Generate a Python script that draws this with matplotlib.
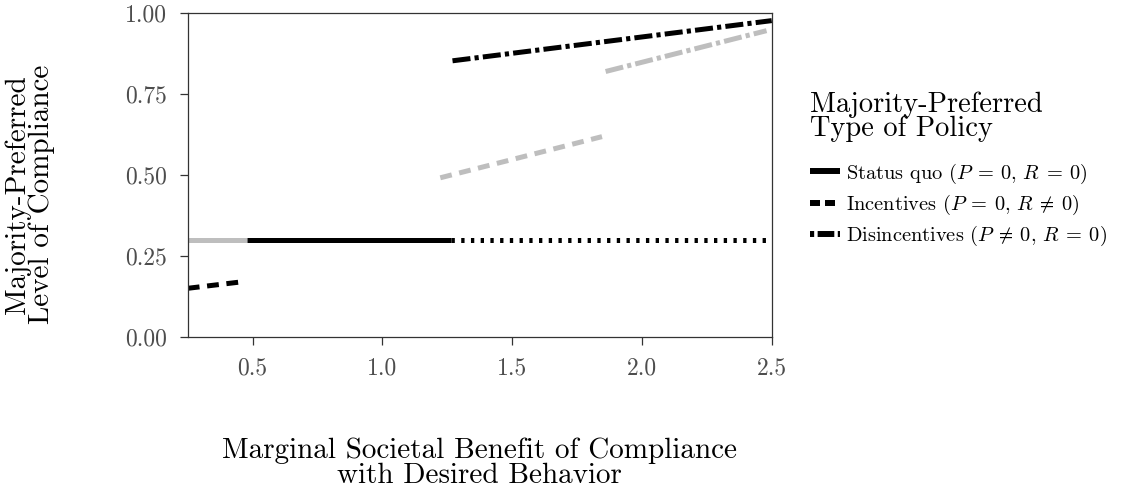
import numpy as np
import matplotlib
matplotlib.use("Agg")
import matplotlib.pyplot as plt
from matplotlib.lines import Line2D

plt.rcParams['font.family'] = ['cmr10']
plt.rcParams['mathtext.fontset'] = 'cm'
plt.rcParams['axes.formatter.use_mathtext'] = True
plt.rcParams['lines.scale_dashes'] = False

# segments (x = marginal benefit, y = compliance)
gray_solid_x = [0.25, 0.48]
gray_solid_y = [0.30, 0.30]
black_solid_x = [0.48, 1.265]
black_solid_y = [0.30, 0.30]
black_dotted_x = [1.265, 2.5]
black_dotted_y = [0.30, 0.30]
black_dashed_x = [0.25, 0.469]
black_dashed_y = [0.150, 0.171]
gray_dashed_x = [1.223, 1.846]
gray_dashed_y = [0.491, 0.618]
black_dashdot_x = [1.27, 2.5]
black_dashdot_y = [0.852, 0.976]
gray_dashdot_x = [1.86, 2.48]
gray_dashdot_y = [0.819, 0.945]

x_ticks = [0.5, 1.0, 1.5, 2.0, 2.5]
y_ticks = [0.00, 0.25, 0.50, 0.75, 1.00]

legend_labels = [r'Status quo $(P\:=\:0,\,R\:=\:0)$',
                 r'Incentives $(P\:=\:0,\,R\:\neq\:0)$',
                 r'Disincentives $(P\:\neq\:0,\,R\:=\:0)$']

GRAY = '#bebebe'
LW = 3.6
DASH = (8.5, 5.5)
DOT = (2.4, 4.6)
DASHDOT = (13.0, 3.0, 3.0, 3.0)

fig = plt.figure(figsize=(11.45, 4.94), dpi=100)
ax = fig.add_axes([0.164, 0.318, 0.51, 0.656])

ax.plot(gray_solid_x, gray_solid_y, color=GRAY, lw=LW, solid_capstyle='butt')
ax.plot(black_solid_x, black_solid_y, color='black', lw=LW, solid_capstyle='butt')
ax.plot(black_dotted_x, black_dotted_y, color='black', lw=LW, dashes=DOT)
ax.plot(black_dashed_x, black_dashed_y, color='black', lw=LW, dashes=DASH)
ax.plot(gray_dashed_x, gray_dashed_y, color=GRAY, lw=LW, dashes=DASH)
ax.plot(black_dashdot_x, black_dashdot_y, color='black', lw=LW, dashes=DASHDOT)
ax.plot(gray_dashdot_x, gray_dashdot_y, color=GRAY, lw=LW, dashes=DASHDOT)

ax.set_xlim(0.25, 2.5)
ax.set_ylim(0, 1)
ax.set_xticks(x_ticks)
ax.set_xticklabels(['%.1f' % v for v in x_ticks])
ax.set_yticks(y_ticks)
ax.set_yticklabels(['%.2f' % v for v in y_ticks])
ax.tick_params(colors='#333333', labelcolor='#4d4d4d', labelsize=17,
               length=6, width=0.9)
ax.tick_params(axis='y', pad=9)
ax.tick_params(axis='x', pad=9)
for s in ax.spines.values():
    s.set_color('#333333')
    s.set_linewidth(0.9)

ax.set_xlabel('Marginal Societal Benefit of Compliance\nwith Desired Behavior',
              fontsize=21, linespacing=0.95)
ax.xaxis.set_label_coords(0.5, -0.31)
ax.set_ylabel('Majority-Preferred\nLevel of Compliance',
              fontsize=21, linespacing=0.88)
ax.yaxis.set_label_coords(-0.228, 0.44)

handles = [Line2D([], [], color='black', lw=4.3, solid_capstyle='butt'),
           Line2D([], [], color='black', lw=4.3, dashes=(7.2, 3.6)),
           Line2D([], [], color='black', lw=4.3, dashes=(3.0, 2.5, 12.0, 2.5))]
leg = fig.legend(handles, legend_labels, title='Majority-Preferred\nType of Policy',
                 loc='upper left', bbox_to_anchor=(810 / 1145, 1 - 92 / 494),
                 frameon=False, fontsize=14.7, title_fontsize=20.5, handlelength=1.45,
                 handletextpad=0.3, labelspacing=0.35, borderaxespad=0,
                 borderpad=0)
leg._legend_box.align = 'left'
leg._legend_box.sep = 14
leg.get_title().set_linespacing(0.85)

fig.savefig('out.png', dpi=100)
